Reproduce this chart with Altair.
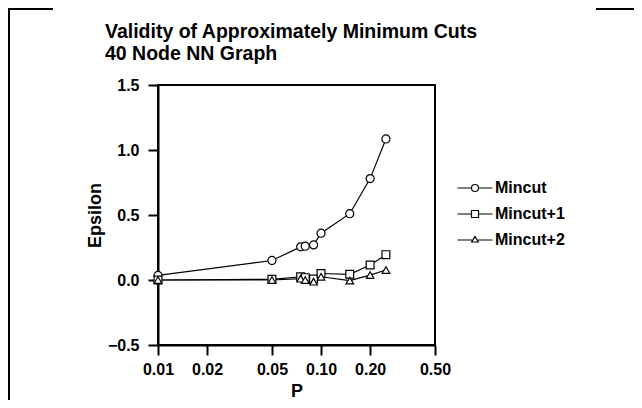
import altair as alt
import pandas as pd

# ---- data ----
p_values = [0.01, 0.05, 0.075, 0.08, 0.09, 0.10, 0.15, 0.20, 0.25]
mincut = [0.035, 0.15, 0.255, 0.26, 0.27, 0.36, 0.51, 0.78, 1.085]
mincut1 = [0.0, 0.005, 0.025, 0.018, 0.008, 0.05, 0.044, 0.115, 0.195]
mincut2 = [0.0, 0.0, 0.01, 0.0, -0.013, 0.025, -0.005, 0.038, 0.077]
series_names = ["Mincut", "Mincut+1", "Mincut+2"]
x_ticks = [0.01, 0.02, 0.05, 0.1, 0.2, 0.5]
y_ticks = [-0.5, 0.0, 0.5, 1.0, 1.5]
title_lines = ["Validity of Approximately Minimum Cuts", "40 Node NN Graph"]

rows = []
for name, vals in zip(series_names, [mincut, mincut1, mincut2]):
    for i, (p, v) in enumerate(zip(p_values, vals)):
        rows.append({"P": p, "Epsilon": v, "series": name, "order": i})
df = pd.DataFrame(rows)
one = pd.DataFrame({"k": [0]})

FONT = "Liberation Sans"

xenc = alt.X("P:Q", scale=alt.Scale(type="log", domain=[0.01, 0.5]),
             axis=alt.Axis(values=x_ticks, format=".2f", title="P", titlePadding=5,
                           labelPadding=6, labelFlush=False, labelOverlap=False))
yenc = alt.Y("Epsilon:Q", scale=alt.Scale(domain=[-0.5, 1.5]),
             axis=alt.Axis(values=y_ticks, format=".1f", title="Epsilon", titlePadding=3,
                           labelPadding=9))

lines = alt.Chart(df).mark_line(color="black", strokeWidth=1.2).encode(
    x=xenc, y=yenc, detail="series:N", order="order:Q")

points = alt.Chart(df).mark_point(filled=True, fill="white", stroke="black",
                                  strokeWidth=1.2, opacity=1).encode(
    x=xenc, y=yenc,
    shape=alt.Shape("series:N", scale=alt.Scale(domain=series_names,
                    range=["circle", "square", "triangle-up"]), legend=None),
    size=alt.Size("series:N", scale=alt.Scale(domain=series_names, range=[65, 58, 42]),
                  legend=None),
)

leg_paths = [
    "M-1.75,0H-0.35M0.35,0H1.75M0.35,0A0.35,0.35,0,1,1,-0.35,0A0.35,0.35,0,1,1,0.35,0Z",
    "M-1.75,0H-0.35M0.35,0H1.75M-0.35,-0.35H0.35V0.35H-0.35Z",
    "M-1.75,0H-0.3M0.3,0H1.75M0,-0.35L0.33,0.2L-0.33,0.2Z",
]
legend_layer = alt.Chart(df).transform_filter("false").mark_point(
    filled=False, color="black", strokeWidth=1.2, opacity=1).encode(
    x=xenc, y=yenc,
    shape=alt.Shape("series:N", scale=alt.Scale(domain=series_names, range=leg_paths),
                    legend=alt.Legend(title=None, orient="none", legendX=306, legendY=92,
                                      symbolSize=400, symbolOpacity=1,
                                      symbolStrokeColor="black",
                                      symbolStrokeWidth=1.2, labelFont=FONT,
                                      labelFontSize=16, labelFontWeight="bold",
                                      labelColor="black", labelOffset=9,
                                      rowPadding=7, padding=0)),
)

title1 = alt.Chart(one).mark_text(
    font=FONT, fontSize=19.5, fontWeight="bold", color="black", align="left",
    baseline="alphabetic", text=title_lines[0]).encode(
    x=alt.value(-53), y=alt.value(-47))
title2 = alt.Chart(one).mark_text(
    font=FONT, fontSize=19.5, fontWeight="bold", color="black", align="left",
    baseline="alphabetic", text=title_lines[1]).encode(
    x=alt.value(-53), y=alt.value(-25))

frame_left_top = alt.Chart(one).mark_rule(color="black", strokeWidth=2).encode(
    x=alt.value(-150), x2=alt.value(-105), y=alt.value(-76))
frame_left = alt.Chart(one).mark_rule(color="black", strokeWidth=2).encode(
    x=alt.value(-149), y=alt.value(-77), y2=alt.value(330))
frame_right_top = alt.Chart(one).mark_rule(color="black", strokeWidth=2).encode(
    x=alt.value(438), x2=alt.value(480), y=alt.value(-76))

chart = alt.layer(lines, points, legend_layer, title1, title2, frame_left_top,
                  frame_left, frame_right_top).resolve_scale(
    shape="independent", size="independent").properties(
    width=277, height=260,
    autosize=alt.AutoSizeParams(type="none"),
    padding={"left": 150, "top": 77, "right": 199, "bottom": 55},
).configure_view(stroke="black", strokeWidth=2).configure_axis(
    grid=False, domainColor="black", domainWidth=2, tickColor="black", tickWidth=2,
    tickSize=10, labelFont=FONT, labelFontSize=16, labelFontWeight="bold",
    labelColor="black", titleFont=FONT, titleFontSize=18, titleFontWeight="bold",
    titleColor="black",
)

chart.save("out.html", embed_options={"renderer": "svg", "actions": False})
